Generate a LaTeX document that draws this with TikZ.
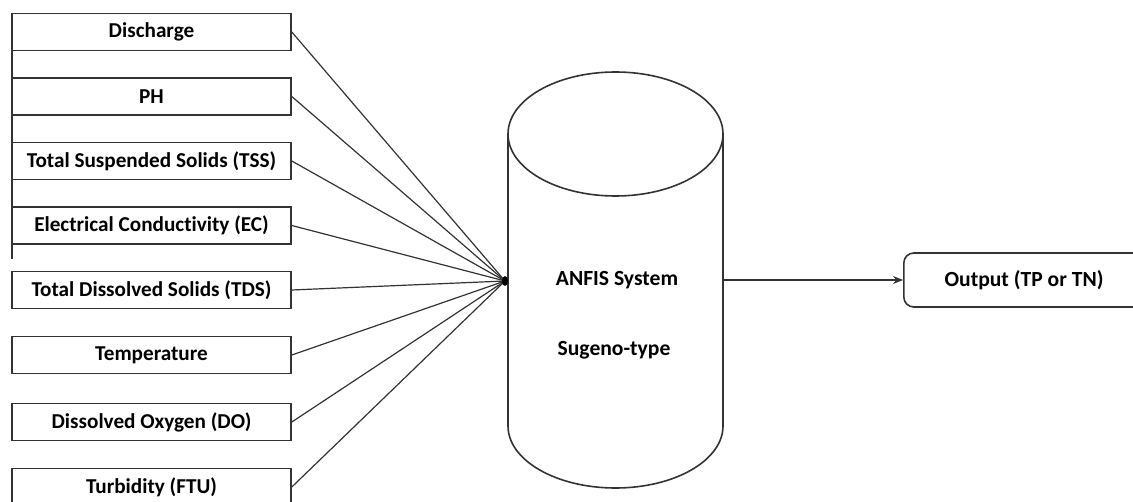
\documentclass[tikz,border=0pt]{standalone}
\usepackage{fontspec}
\setmainfont{Carlito}[Ligatures=NoCommon]
\usetikzlibrary{arrows.meta}
\definecolor{ln}{HTML}{333333}
\tikzset{
  inbox/.style={draw=ln, line width=0.8pt, minimum width=139.5pt, minimum height=18.5pt, inner sep=0pt, font=\fontsize{10.6}{12}\selectfont\bfseries, fill=white},
  conn/.style={draw=ln, line width=0.6pt},
  lbl/.style={font=\fontsize{10.8}{12}\selectfont\bfseries, inner sep=0pt},
}
\begin{document}
\begin{tikzpicture}[x=0.5pt,y=-0.5pt]
\useasboundingbox (0,0) rectangle (1133,502);
\clip (0,0) rectangle (1133,502);
% left line
\draw[ln, line width=0.6pt] (12,13) -- (12,259);
% input boxes
\node[inbox] (b1) at (151.5,32) {Discharge};
\node[inbox] (b2) at (151.5,96.5) {PH};
\node[inbox] (b3) at (151.5,161) {Total Suspended Solids (TSS)};
\node[inbox] (b4) at (151.5,225.5) {Electrical Conductivity (EC)};
\node[inbox] (b5) at (151.5,290) {Total Dissolved Solids (TDS)};
\node[inbox] (b6) at (151.5,355) {Temperature};
\node[inbox] (b7) at (151.5,422) {Dissolved Oxygen (DO)};
\node[inbox] (b8) at (151.5,487) {Turbidity (FTU)};
% cylinder
\draw[ln, line width=0.8pt, fill=white] (508,134) -- (508,426) arc[start angle=180, end angle=360, x radius=107.5, y radius=-62] -- (723,134);
\draw[ln, line width=0.8pt] (615.5,134) ellipse [x radius=107.5, y radius=62];
\node[lbl] (anfis) at (617,280) {ANFIS System};
\node[lbl] (sugeno) at (614,350) {Sugeno-type};
\coordinate (j) at (505,281);
\coordinate (cr) at (723,280);
% connectors
\foreach \i in {1,...,8} \draw[conn] (b\i.east) -- (j);
\fill[black] (j) ellipse [x radius=3, y radius=5];
% output
\node[draw=ln, line width=0.8pt, rounded corners=5pt, minimum width=121pt, minimum height=27pt, inner sep=0pt, anchor=west] (out) at (903,280) {};
\node[lbl] (outt) at (1024,280) {Output (TP or TN)};
\draw[ln, line width=0.8pt, -{Stealth[length=5pt,width=4pt]}] (cr) -- (out.west);
\end{tikzpicture}
\end{document}
